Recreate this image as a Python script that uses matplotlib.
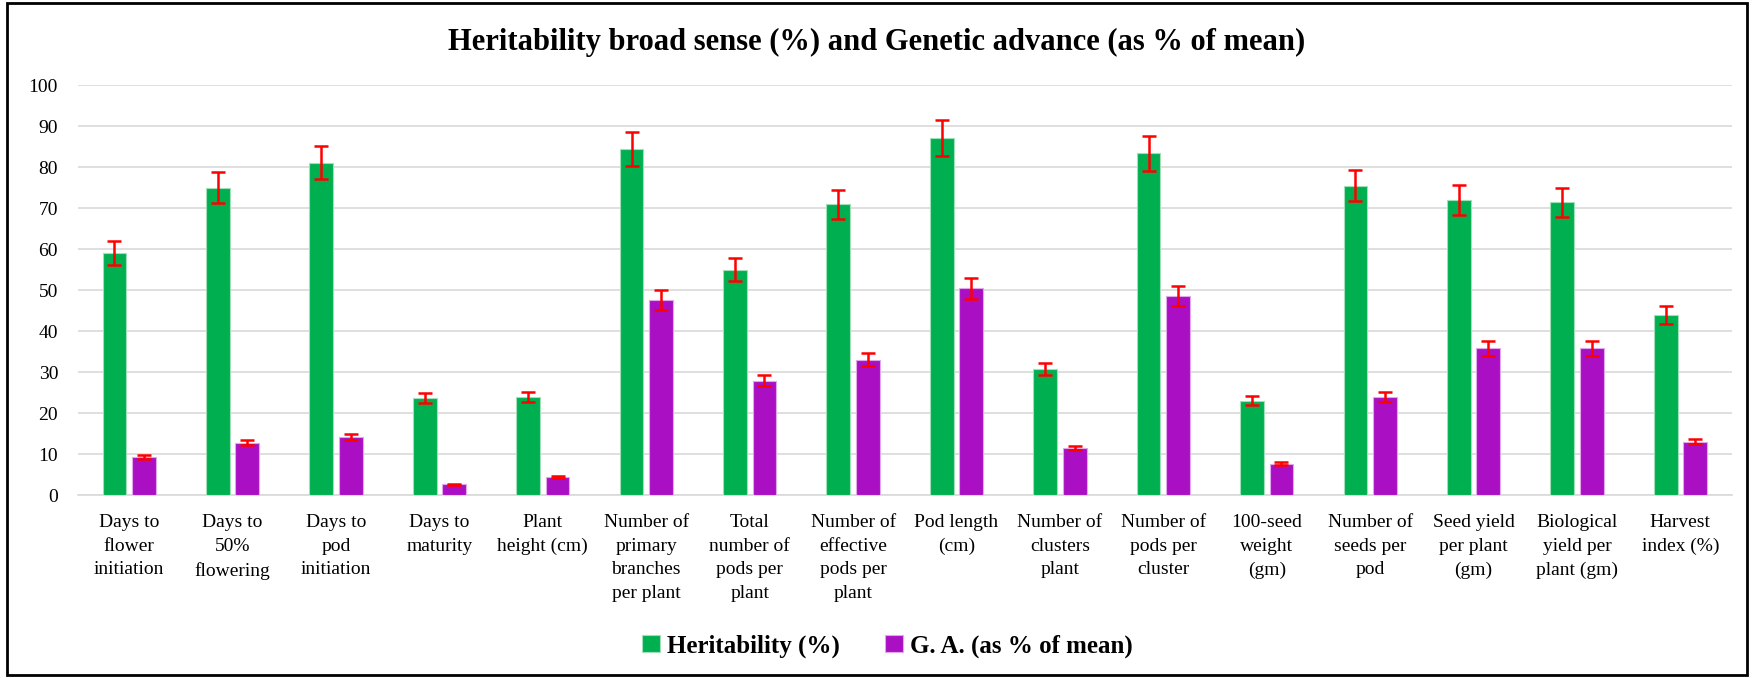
import matplotlib
matplotlib.use("Agg")
import matplotlib.pyplot as plt
import numpy as np
from matplotlib.patches import Rectangle

categories = [
    "Days to\nflower\ninitiation",
    "Days to\n50%\nflowering",
    "Days to\npod\ninitiation",
    "Days to\nmaturity",
    "Plant\nheight (cm)",
    "Number of\nprimary\nbranches\nper plant",
    "Total\nnumber of\npods per\nplant",
    "Number of\neffective\npods per\nplant",
    "Pod length\n(cm)",
    "Number of\nclusters\nplant",
    "Number of\npods per\ncluster",
    "100-seed\nweight\n(gm)",
    "Number of\nseeds per\npod",
    "Seed yield\nper plant\n(gm)",
    "Biological\nyield per\nplant (gm)",
    "Harvest\nindex (%)",
]
heritability = [59.1, 75.0, 81.1, 23.7, 24.0, 84.4, 55.0, 70.9, 87.0, 30.7, 83.3, 23.0, 75.4, 71.9, 71.4, 44.0]
genetic_advance = [9.2, 12.8, 14.2, 2.6, 4.3, 47.6, 27.9, 33.0, 50.4, 11.5, 48.6, 7.6, 24.0, 35.8, 35.8, 13.0]
error_fraction = 0.05
yticks = list(range(0, 101, 10))

plt.rcParams['font.family'] = ['Liberation Serif', 'DejaVu Serif']

fig = plt.figure(figsize=(17.54, 6.78), dpi=100)
ax = fig.add_axes([0.0442, 0.2699, 0.9433, 0.6047])

x = np.arange(len(categories))
w = 0.23
off = 0.1425
green = '#00B050'
purple = '#AA0FC4'

h = np.array(heritability)
g = np.array(genetic_advance)
ax.bar(x - off, h, w, color=green, edgecolor='#9fe0b8', linewidth=0.8,
       yerr=h * error_fraction, ecolor='#FF0000',
       error_kw=dict(elinewidth=1.8, capsize=5, capthick=1.8), label='Heritability (%)', zorder=3)
ax.bar(x + off, g, w, color=purple, edgecolor='#e0a8ea', linewidth=0.8,
       yerr=g * error_fraction, ecolor='#FF0000',
       error_kw=dict(elinewidth=1.8, capsize=5, capthick=1.8), label='G. A. (as % of mean)', zorder=3)

ax.set_xlim(-0.5, len(categories) - 0.5)
ax.set_ylim(0, 100)
ax.set_yticks(yticks)
ax.set_yticklabels([str(v) for v in yticks], fontsize=14)
ax.set_xticks(x)
ax.set_xticklabels(categories, fontsize=14, linespacing=1.5)
ax.tick_params(axis='both', length=0)
ax.tick_params(axis='x', pad=14)
ax.tick_params(axis='y', pad=14)
ax.grid(axis='y', color='#d9d9d9', linewidth=1.2, zorder=0)
ax.set_axisbelow(True)
for s in ['top', 'right', 'left']:
    ax.spines[s].set_visible(False)
ax.spines['bottom'].set_color('#d9d9d9')
ax.spines['bottom'].set_linewidth(1.2)

fig.text(0.5, 0.938, 'Heritability broad sense (%) and Genetic advance (as % of mean)',
         ha='center', va='center', fontsize=22, fontweight='bold')

leg = fig.legend(loc='center', bbox_to_anchor=(0.506, 0.047), ncol=2, frameon=False,
                 prop=dict(size=18, weight='bold'), handlelength=0.7, handleheight=0.7,
                 handletextpad=0.3, columnspacing=1.8)

fig.patches.append(Rectangle((0.004, 0.004), 0.992, 0.992, transform=fig.transFigure,
                             fill=False, edgecolor='black', linewidth=2))

fig.savefig('out.png', dpi=100)
